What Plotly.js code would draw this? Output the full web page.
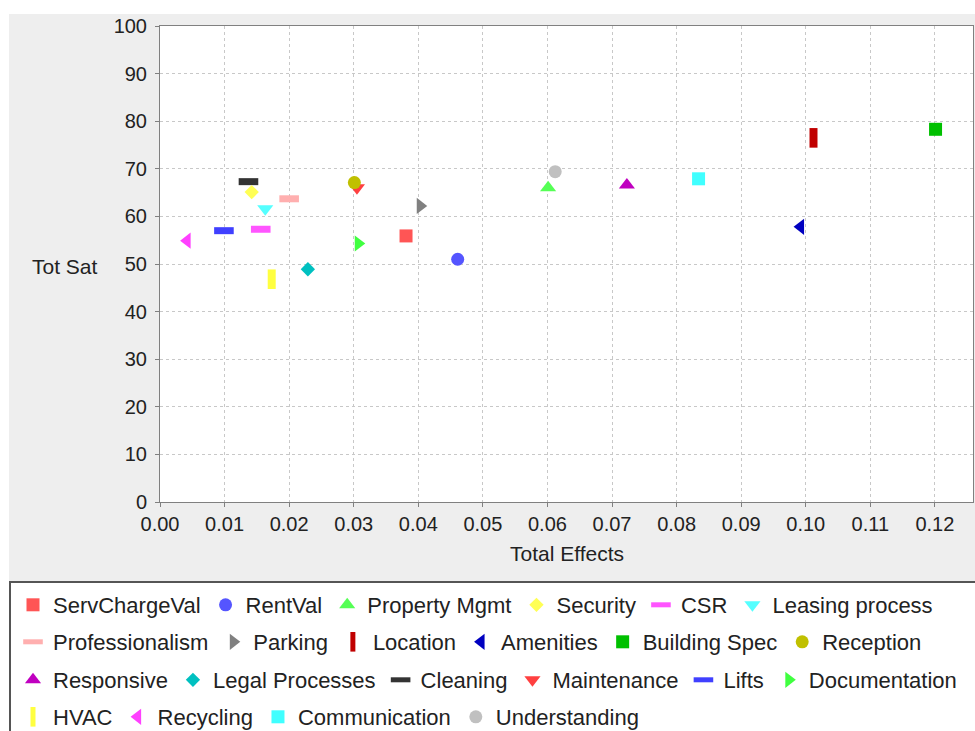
<!DOCTYPE html>
<html>
<head>
<meta charset="utf-8">
<script src="https://cdn.plot.ly/plotly-3.0.1.min.js"></script>
<style>
html,body{margin:0;padding:0;background:#ffffff;overflow:hidden;}
#chart{width:975px;height:731px;}
</style>
</head>
<body>
<div id="chart"></div>
<script>
// ---- data ----
var names = ['ServChargeVal','RentVal','Property Mgmt','Security','CSR','Leasing process',
             'Professionalism','Parking','Location','Amenities','Building Spec','Reception',
             'Responsive','Legal Processes','Cleaning','Maintenance','Lifts','Documentation',
             'HVAC','Recycling','Communication','Understanding'];
var totalEffects = [0.0381,0.0461,0.0601,0.0142,0.0156,0.0163,
                    0.0200,0.0403,0.1012,0.0992,0.1201,0.0301,
                    0.0723,0.0229,0.0137,0.0305,0.0099,0.0307,
                    0.0173,0.0042,0.0834,0.0612];
var totSat = [55.9,51.0,66.0,65.1,57.3,61.6,
              63.7,62.2,76.5,57.8,78.3,67.1,
              66.6,48.9,67.3,66.0,57.0,54.3,
              46.8,54.9,67.9,69.4];
var xTickVals = [0,0.01,0.02,0.03,0.04,0.05,0.06,0.07,0.08,0.09,0.10,0.11,0.12];
var yTickVals = [0,10,20,30,40,50,60,70,80,90,100];
var xTitle = 'Total Effects';
var yTitle = 'Tot Sat';

// ---- styles ----
var palette = ['#ff5555','#5555ff','#55ff55','#ffff55','#ff55ff','#55ffff',
               '#ffafaf','#808080','#c00000','#0000c0','#00c000','#c0c000',
               '#c000c0','#00c0c0','#333333','#ff4040','#4040ff','#40ff40',
               '#ffff40','#ff40ff','#40ffff','#c0c0c0'];
var shapeSeq = ['square','circle','triangle-up','diamond','line-ew','triangle-down',
                'line-ew','triangle-right','line-ns','triangle-left'];
var symStyle = {
  'square':{size:13,lw:0},
  'circle':{size:13,lw:0},
  'triangle-up':{size:14,lw:0},
  'triangle-down':{size:14,lw:0},
  'triangle-left':{size:14,lw:0},
  'triangle-right':{size:14,lw:0},
  'diamond':{size:11,lw:0},
  'line-ew':{size:14,lw:7},
  'line-ns':{size:14,lw:8}
};
var legendIds = ['legend','legend2','legend3','legend4'];
var perRow = 6;

var traces = [];
for (var i = names.length - 1; i >= 0; i--) {
  var sym = shapeSeq[i % shapeSeq.length];
  var st = symStyle[sym];
  traces.push({
    type:'scatter', mode:'markers', name:names[i],
    x:[totalEffects[i]], y:[totSat[i]],
    legend: legendIds[Math.floor(i / perRow)],
    legendrank: i + 1,
    marker:{symbol:sym, size:st.size, color:palette[i],
            line:{color:palette[i], width:st.lw}},
    hoverinfo:'name+x+y'
  });
}

// pixel helpers for paper coordinates (layout only)
var L = 160, T = 26, W = 813, H = 476;
function px(xp){ return (xp - L) / W; }
function py(yp){ return (T + H - yp) / H; }

var FONT = 'Liberation Sans, Arial, sans-serif';
var TXT = '#222222';
var legendFont = {family:FONT, size:22, color:TXT};
function mkLegend(rowCenter){
  return {orientation:'h', x:px(13), xanchor:'left', y:py(rowCenter), yanchor:'middle',
          bgcolor:'rgba(0,0,0,0)', borderwidth:0, font:legendFont,
          itemsizing:'trace', itemclick:false, itemdoubleclick:false,
          traceorder:'normal'};
}

var axisFont = {family:FONT, size:20, color:TXT};
var layout = {
  width:975, height:731,
  margin:{l:L, r:975 - L - W, t:T, b:731 - T - H, autoexpand:false},
  paper_bgcolor:'#eeeeee', plot_bgcolor:'#ffffff',
  showlegend:true,
  xaxis:{range:[0,0.1259], tickvals:xTickVals, tickformat:'.2f',
         ticks:'outside', ticklen:4, tickcolor:'#808080', tickwidth:1,
         showgrid:true, gridcolor:'#c8c8c8', gridwidth:1, griddash:'3px,3px',
         zeroline:false, showline:true, linecolor:'#808080', linewidth:1, mirror:true,
         tickfont:axisFont, automargin:false, fixedrange:true},
  yaxis:{range:[0,100], tickvals:yTickVals,
         ticks:'outside', ticklen:4, tickcolor:'#808080', tickwidth:1,
         ticklabelstandoff:4,
         showgrid:true, gridcolor:'#c8c8c8', gridwidth:1, griddash:'3px,3px',
         zeroline:false, showline:true, linecolor:'#808080', linewidth:1, mirror:true,
         tickfont:axisFont, automargin:false, fixedrange:true},
  legend:mkLegend(605),
  legend2:mkLegend(642),
  legend3:mkLegend(680),
  legend4:mkLegend(717),
  annotations:[
    {text:yTitle, xref:'paper', yref:'paper', x:px(100), y:py(266), xanchor:'right', yanchor:'middle',
     showarrow:false, font:{family:FONT, size:21, color:TXT}},
    {text:xTitle, xref:'paper', yref:'paper', x:px(566.5), y:py(553), xanchor:'center', yanchor:'middle',
     showarrow:false, font:{family:FONT, size:21, color:TXT}}
  ],
  shapes:[
    {type:'rect', xref:'paper', yref:'paper', x0:px(-20), x1:px(1000), y0:py(14), y1:py(-20),
     fillcolor:'#ffffff', line:{width:0}, layer:'below'},
    {type:'rect', xref:'paper', yref:'paper', x0:px(-20), x1:px(9), y0:py(760), y1:py(-20),
     fillcolor:'#ffffff', line:{width:0}, layer:'below'},
    {type:'rect', xref:'paper', yref:'paper', x0:px(10), x1:px(1000), y0:py(800), y1:py(582),
     fillcolor:'#ffffff', line:{color:'#555555', width:2}, layer:'below'}
  ]
};

Plotly.newPlot('chart', traces, layout, {displayModeBar:false, staticPlot:false});
</script>
</body>
</html>
